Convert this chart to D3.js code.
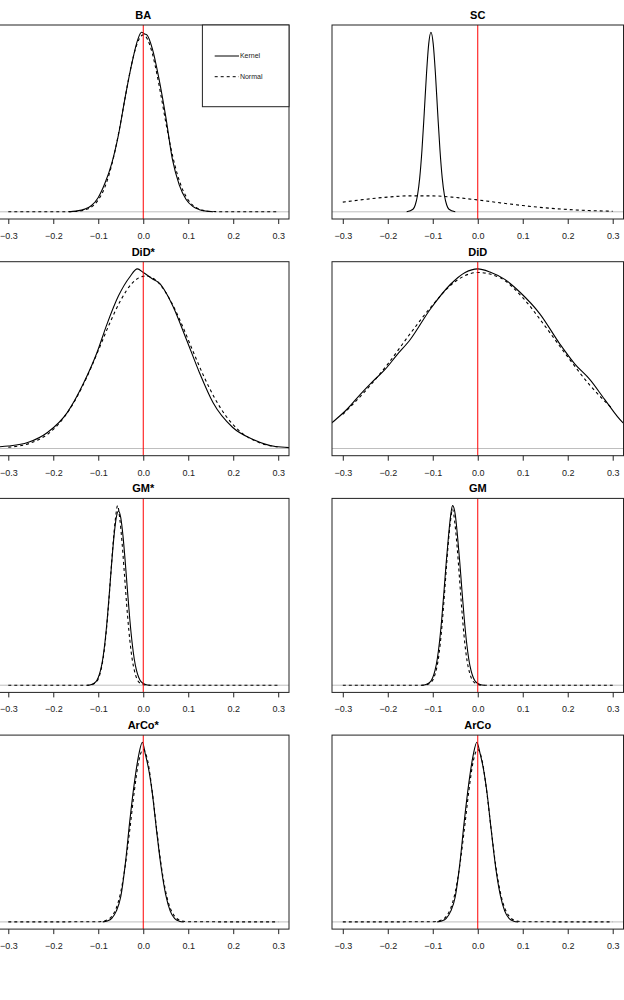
<!DOCTYPE html>
<html>
<head>
<meta charset="utf-8">
<script src="https://cdn.jsdelivr.net/npm/d3@7"></script>
<style>
body { margin: 0; background: #ffffff; }
text { font-family: "Liberation Sans", Arial, sans-serif; }
</style>
</head>
<body>
<svg id="viz"></svg>
<script>
// x ticks shared by every panel
const tickValues = [-0.3, -0.2, -0.1, 0.0, 0.1, 0.2, 0.3];
const titles = ["BA", "SC", "DiD*", "DiD", "GM*", "GM", "ArCo*", "ArCo"];
const legendLabels = ["Kernel", "Normal"];

// [x, relative density]
const baKernel = [[-0.165,0],[-0.15,0.004],[-0.13,0.015],[-0.115,0.035],[-0.1,0.08],[-0.085,0.16],[-0.07,0.27],[-0.055,0.43],[-0.04,0.64],[-0.025,0.83],[-0.012,0.96],[-0.004,1.0],[0.003,0.99],[0.008,0.985],[0.02,0.91],[0.035,0.74],[0.05,0.53],[0.065,0.29],[0.08,0.15],[0.095,0.07],[0.11,0.03],[0.125,0.012],[0.14,0.004],[0.155,0]];
const baNormal = [[-0.3,0],[-0.2,0],[-0.15,0.002],[-0.12,0.02],[-0.1,0.066],[-0.09,0.11],[-0.08,0.175],[-0.07,0.262],[-0.06,0.372],[-0.05,0.5],[-0.04,0.64],[-0.03,0.772],[-0.02,0.884],[-0.01,0.958],[0,0.985],[0.01,0.958],[0.02,0.884],[0.03,0.772],[0.04,0.64],[0.05,0.5],[0.06,0.372],[0.07,0.262],[0.08,0.175],[0.09,0.11],[0.1,0.066],[0.12,0.02],[0.15,0.002],[0.2,0],[0.3,0]];

const scKernel = [[-0.158,0],[-0.144,0.014],[-0.139,0.038],[-0.134,0.091],[-0.129,0.189],[-0.124,0.344],[-0.119,0.549],[-0.114,0.766],[-0.109,0.935],[-0.104,1.0],[-0.099,0.935],[-0.094,0.766],[-0.089,0.549],[-0.084,0.344],[-0.079,0.189],[-0.074,0.091],[-0.069,0.038],[-0.064,0.014],[-0.05,0]];
const scNormal = [[-0.3,0.054],[-0.25,0.0695],[-0.2,0.082],[-0.15,0.089],[-0.1,0.0886],[-0.05,0.08],[0,0.066],[0.05,0.05],[0.1,0.035],[0.15,0.022],[0.2,0.013],[0.25,0.0068],[0.3,0.0033]];

const didStarKernel = [[-0.325,0.009],[-0.3,0.014],[-0.257,0.033],[-0.213,0.089],[-0.169,0.2],[-0.132,0.367],[-0.103,0.533],[-0.081,0.69],[-0.055,0.85],[-0.03,0.955],[-0.013,1.0],[0,0.98],[0.02,0.945],[0.037,0.918],[0.05,0.87],[0.066,0.792],[0.096,0.607],[0.125,0.422],[0.155,0.256],[0.199,0.117],[0.243,0.052],[0.294,0.011],[0.325,0.005]];
const didStarNormal = [[-0.3,0.007],[-0.25,0.031],[-0.2,0.106],[-0.175,0.177],[-0.15,0.275],[-0.125,0.4],[-0.1,0.545],[-0.075,0.695],[-0.05,0.826],[-0.025,0.92],[0.005,0.96],[0.035,0.92],[0.06,0.826],[0.085,0.695],[0.11,0.545],[0.135,0.4],[0.16,0.275],[0.185,0.177],[0.21,0.106],[0.26,0.031],[0.3,0.008]];

const didKernel = [[-0.335,0.12],[-0.323,0.146],[-0.29,0.22],[-0.261,0.302],[-0.235,0.37],[-0.206,0.44],[-0.18,0.52],[-0.15,0.607],[-0.106,0.774],[-0.061,0.913],[-0.028,0.98],[0,1.0],[0.027,0.983],[0.061,0.94],[0.094,0.87],[0.138,0.75],[0.183,0.58],[0.216,0.47],[0.249,0.385],[0.282,0.274],[0.322,0.146],[0.335,0.12]];
const didNormal = [[-0.3,0.19],[-0.25,0.32],[-0.2,0.47],[-0.15,0.64],[-0.1,0.8],[-0.05,0.93],[0,0.98],[0.05,0.95],[0.1,0.84],[0.15,0.68],[0.2,0.51],[0.25,0.35],[0.3,0.22]];

const gmStarKernel = [[-0.125,0],[-0.115,0.004],[-0.105,0.02],[-0.1,0.043],[-0.095,0.082],[-0.09,0.146],[-0.085,0.242],[-0.08,0.37],[-0.075,0.524],[-0.07,0.686],[-0.065,0.83],[-0.06,0.933],[-0.055,0.97],[-0.05,0.933],[-0.045,0.83],[-0.04,0.686],[-0.035,0.524],[-0.03,0.37],[-0.025,0.242],[-0.02,0.146],[-0.015,0.082],[-0.01,0.043],[-0.005,0.02],[0.005,0.004],[0.015,0]];
const gmStarNormal = [[-0.3,0],[-0.12,0],[-0.107,0.012],[-0.097,0.056],[-0.087,0.188],[-0.082,0.305],[-0.077,0.453],[-0.072,0.624],[-0.067,0.791],[-0.062,0.923],[-0.057,1.0],[-0.052,0.923],[-0.047,0.791],[-0.042,0.624],[-0.037,0.453],[-0.032,0.305],[-0.027,0.188],[-0.017,0.056],[-0.007,0.012],[0.01,0],[0.3,0]];

const gmKernel = [[-0.125,0],[-0.115,0.004],[-0.105,0.02],[-0.1,0.043],[-0.095,0.082],[-0.09,0.146],[-0.085,0.242],[-0.08,0.37],[-0.075,0.524],[-0.07,0.686],[-0.065,0.83],[-0.06,0.95],[-0.056,1.0],[-0.05,0.95],[-0.045,0.83],[-0.04,0.686],[-0.035,0.524],[-0.03,0.37],[-0.025,0.242],[-0.02,0.146],[-0.015,0.082],[-0.01,0.043],[-0.005,0.02],[0.005,0.004],[0.015,0]];
const gmNormal = [[-0.3,0],[-0.12,0],[-0.106,0.012],[-0.096,0.052],[-0.086,0.175],[-0.081,0.29],[-0.076,0.44],[-0.071,0.61],[-0.066,0.775],[-0.061,0.905],[-0.056,0.98],[-0.051,0.905],[-0.046,0.775],[-0.041,0.61],[-0.036,0.44],[-0.031,0.29],[-0.026,0.175],[-0.016,0.052],[-0.006,0.012],[0.01,0],[0.3,0]];

const arcoStarKernel = [[-0.09,0],[-0.08,0.005],[-0.07,0.02],[-0.06,0.06],[-0.05,0.14],[-0.04,0.32],[-0.03,0.56],[-0.02,0.77],[-0.01,0.93],[-0.002,1.0],[0.005,0.93],[0.012,0.85],[0.02,0.72],[0.03,0.5],[0.04,0.3],[0.05,0.15],[0.06,0.06],[0.07,0.018],[0.08,0.004],[0.09,0]];
const arcoStarNormal = [[-0.3,0],[-0.1,0.001],[-0.08,0.011],[-0.07,0.031],[-0.06,0.077],[-0.05,0.167],[-0.04,0.313],[-0.03,0.511],[-0.02,0.725],[-0.01,0.895],[0,0.96],[0.01,0.895],[0.02,0.725],[0.03,0.511],[0.04,0.313],[0.05,0.167],[0.06,0.077],[0.07,0.031],[0.08,0.011],[0.1,0.001],[0.3,0]];

const arcoKernel = [[-0.09,0],[-0.08,0.005],[-0.07,0.02],[-0.06,0.06],[-0.05,0.14],[-0.04,0.32],[-0.03,0.56],[-0.02,0.77],[-0.01,0.93],[-0.002,1.0],[0.005,0.94],[0.012,0.86],[0.02,0.73],[0.03,0.51],[0.04,0.3],[0.05,0.15],[0.06,0.06],[0.07,0.018],[0.08,0.004],[0.09,0]];
const arcoNormal = arcoStarNormal;

let panels = [
    {title: titles[0], kernel: baKernel, normal: baNormal},
    {title: titles[1], kernel: scKernel, normal: scNormal},
    {title: titles[2], kernel: didStarKernel, normal: didStarNormal},
    {title: titles[3], kernel: didKernel, normal: didNormal},
    {title: titles[4], kernel: gmStarKernel, normal: gmStarNormal},
    {title: titles[5], kernel: gmKernel, normal: gmNormal},
    {title: titles[6], kernel: arcoStarKernel, normal: arcoStarNormal},
    {title: titles[7], kernel: arcoKernel, normal: arcoNormal}
];

let width = 624;
let height = 1000;
let boxW = 291.5;
let boxH = 194;
let colX = [-2.5, 332];
let rowTop = 25;
let rowStep = 236.7;
let dash = "3,3";

let svg = d3.select("#viz")
    .attr("width", width)
    .attr("height", height);

panels.forEach(function(p, i) {
    let bx = colX[i % 2];
    let by = rowTop + Math.floor(i / 2) * rowStep;

    let x = d3.scaleLinear()
        .domain([-0.324, 0.324])
        .range([bx, bx + boxW]);
    let ymax = d3.max(p.kernel.concat(p.normal), (d) => d[1]);
    let y = d3.scaleLinear()
        .domain([-0.04 * ymax, 1.04 * ymax])
        .range([by + boxH, by]);

    let g = svg.append("g");

    g.append("clipPath")
        .attr("id", "clip" + i)
        .append("rect")
        .attr("x", bx).attr("y", by)
        .attr("width", boxW).attr("height", boxH);

    let plot = g.append("g").attr("clip-path", `url(#clip${i})`);

    // zero density line
    plot.append("line")
        .attr("x1", bx).attr("x2", bx + boxW)
        .attr("y1", y(0)).attr("y2", y(0))
        .style("stroke", "#bebebe")
        .style("stroke-width", 1);

    let line = d3.line()
        .x((d) => x(d[0]))
        .y((d) => y(d[1]))
        .curve(d3.curveMonotoneX);

    plot.append("path")
        .datum(p.normal)
        .attr("d", line)
        .style("fill", "none")
        .style("stroke", "#000")
        .style("stroke-width", 1.1)
        .style("stroke-dasharray", dash);

    plot.append("path")
        .datum(p.kernel)
        .attr("d", line)
        .style("fill", "none")
        .style("stroke", "#000")
        .style("stroke-width", 1.1);

    plot.append("line")
        .attr("x1", x(0)).attr("x2", x(0))
        .attr("y1", by).attr("y2", by + boxH)
        .style("stroke", "#ff0000")
        .style("stroke-width", 1);

    g.append("rect")
        .attr("x", bx).attr("y", by)
        .attr("width", boxW).attr("height", boxH)
        .style("fill", "none")
        .style("stroke", "#222")
        .style("stroke-width", 1);

    let axis = d3.axisBottom(x)
        .tickValues(tickValues)
        .tickSize(5)
        .tickPadding(8.6)
        .tickFormat(d3.format(".1f"));

    let ax = g.append("g")
        .attr("transform", `translate(0, ${by + boxH})`)
        .call(axis);
    ax.select(".domain").remove();
    ax.selectAll("line").style("stroke", "#222");
    ax.selectAll("text")
        .style("font-family", "Liberation Sans, Arial, sans-serif")
        .style("font-size", "9px")
        .style("fill", "#222");

    g.append("text")
        .attr("x", bx + boxW / 2)
        .attr("y", by - 6)
        .attr("text-anchor", "middle")
        .style("font-size", "11px")
        .style("font-weight", "bold")
        .text(p.title);

    if (i == 0) {
        let lw = 86.6, lh = 81.7;
        let lx = bx + boxW - lw;
        let legend = g.append("g");
        legend.append("rect")
            .attr("x", lx).attr("y", by)
            .attr("width", lw).attr("height", lh)
            .style("fill", "#fff")
            .style("stroke", "#222")
            .style("stroke-width", 1);
        legendLabels.forEach(function(lab, k) {
            let ly = by + 31 + k * 20.7;
            legend.append("line")
                .attr("x1", lx + 12.3).attr("x2", lx + 36.6)
                .attr("y1", ly).attr("y2", ly)
                .style("stroke", "#000")
                .style("stroke-width", 1)
                .style("stroke-dasharray", k == 1 ? dash : null);
            legend.append("text")
                .attr("x", lx + 37.5)
                .attr("y", ly + 2.4)
                .style("font-size", "7px")
                .style("fill", "#222")
                .text(lab);
        });
    }
});
</script>
</body>
</html>
